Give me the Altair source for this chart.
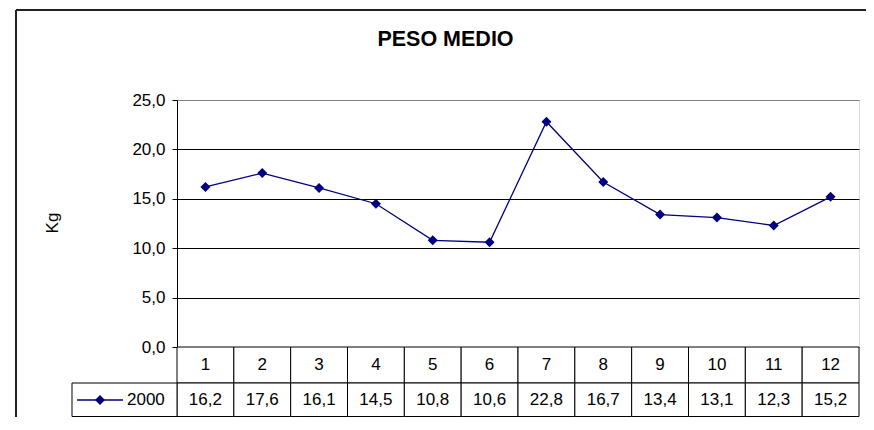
import altair as alt
import pandas as pd

# ---- data ----
meses = ["1", "2", "3", "4", "5", "6", "7", "8", "9", "10", "11", "12"]
peso = [16.2, 17.6, 16.1, 14.5, 10.8, 10.6, 22.8, 16.7, 13.4, 13.1, 12.3, 15.2]
serie = "2000"
titulo = "PESO MEDIO"
eje_y = "Kg"
y_ticks = [0, 5, 10, 15, 20, 25]

df = pd.DataFrame({"mes": meses, "peso": peso})
df["etiqueta"] = [f"{v:.1f}".replace(".", ",") for v in peso]
one = pd.DataFrame({"serie": [serie], "titulo": [titulo]})

FONT = "Liberation Sans"
NAVY = "#000080"
W, H = 682, 247
R1 = (H, H + 36)
R2 = (H + 36, H + 69.5)

xscale = alt.Scale(type="band", paddingInner=0, paddingOuter=0)
xband = alt.X("mes:O", sort=meses, scale=xscale, axis=None)
xmid = alt.X("mes:O", sort=meses, scale=xscale, axis=None, bandPosition=0.5)

yaxis = alt.Axis(
    values=y_ticks,
    labelExpr="replace(format(datum.value, '.1f'), '.', ',')",
    labelFont=FONT, labelFontSize=17, labelColor="#000", labelPadding=7,
    tickColor="#000", tickSize=5, domainColor="#000",
    grid=True,
    gridColor={"condition": {"test": "datum.value === 25", "value": "#808080"}, "value": "#000000"},
    title=eje_y, titleFont=FONT, titleFontSize=17, titleFontWeight="normal",
    titleColor="#000", titleX=-124.5, titleY=122.5, titleAngle=270,
    titleAlign="center", titleBaseline="middle",
)
yenc = alt.Y("peso:Q", scale=alt.Scale(domain=[0, 25], nice=False, zero=True), axis=yaxis)

base = alt.Chart(df)

line = base.mark_line(color=NAVY, strokeWidth=1.3).encode(x=xmid, y=yenc)
pts = base.mark_point(shape="diamond", filled=True, size=100, color=NAVY, opacity=1).encode(
    x=xmid, y="peso:Q")

cells1 = base.mark_rect(fill="white", stroke="#000", strokeWidth=1).encode(
    x=xband, y=alt.value(R1[0]), y2=alt.value(R1[1]))
cells2 = base.mark_rect(fill="white", stroke="#000", strokeWidth=1).encode(
    x=xband, y=alt.value(R2[0]), y2=alt.value(R2[1]))
cat_txt = base.mark_text(font=FONT, fontSize=17, baseline="middle", color="#000").encode(
    x=xmid, y=alt.value((R1[0] + R1[1]) / 2), text="mes:N")
val_txt = base.mark_text(font=FONT, fontSize=17, baseline="middle", color="#000").encode(
    x=xmid, y=alt.value((R2[0] + R2[1]) / 2), text="etiqueta:N")

ob = alt.Chart(one)
leg_cell = ob.mark_rect(fill="white", stroke="#000", strokeWidth=1).encode(
    x=alt.value(-105), x2=alt.value(0), y=alt.value(R2[0]), y2=alt.value(R2[1]))
leg_line = ob.mark_rule(color=NAVY, strokeWidth=1.3).encode(
    x=alt.value(-100), x2=alt.value(-54), y=alt.value(300))
leg_pt = ob.mark_point(shape="diamond", filled=True, size=100, color=NAVY, opacity=1).encode(
    x=alt.value(-77), y=alt.value(300))
leg_txt = ob.mark_text(font=FONT, fontSize=17, align="left", baseline="middle", color="#000").encode(
    x=alt.value(-50), y=alt.value(300), text="serie:N")

title_txt = ob.mark_text(font=FONT, fontSize=21.5, fontWeight="bold", align="center",
                         baseline="alphabetic", color="#000").encode(
    x=alt.value(268.5), y=alt.value(-54), text="titulo:N")

frame_left = ob.mark_rule(color="#222", strokeWidth=2).encode(
    x=alt.value(-161), y=alt.value(-90), y2=alt.value(340))
frame_top = ob.mark_rule(color="#222", strokeWidth=2).encode(
    x=alt.value(-161), x2=alt.value(696), y=alt.value(-90))

chart = alt.layer(
    frame_left, frame_top, title_txt,
    cells1, cells2, cat_txt, val_txt,
    leg_cell, leg_line, leg_pt, leg_txt,
    line, pts,
).properties(
    width=W, height=H,
    autosize=alt.AutoSizeParams(type="none"),
    padding={"left": 169, "top": 92, "right": 7, "bottom": 70},
).configure_view(
    stroke="#808080", strokeWidth=1.5
).configure(background="white")

chart.save("out.html", embed_options={"renderer": "svg", "actions": False})
